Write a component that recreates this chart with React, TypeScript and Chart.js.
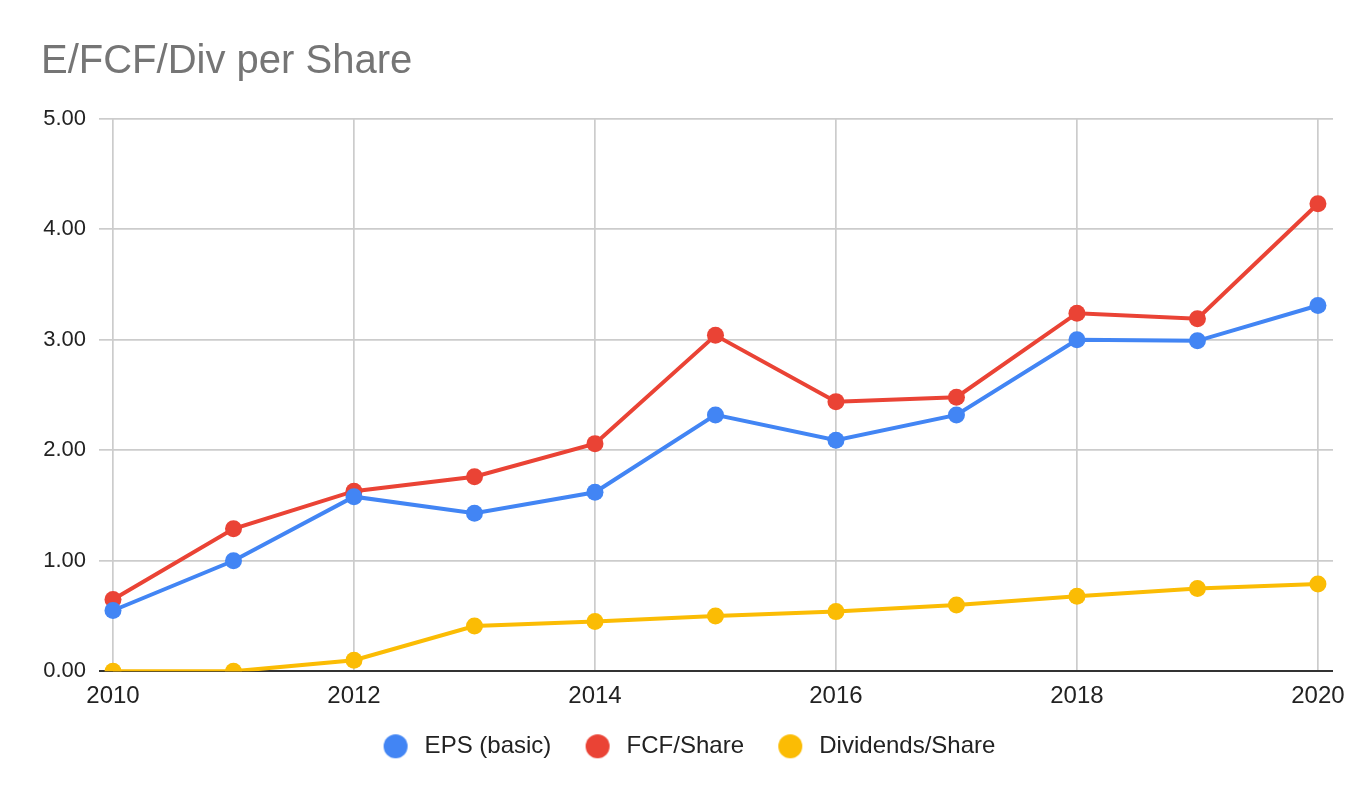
import React, { useEffect, useRef } from "react";
import { Chart, registerables } from "chart.js";

Chart.register(...registerables);

const years = [2010, 2011, 2012, 2013, 2014, 2015, 2016, 2017, 2018, 2019, 2020];
const xTickYears = [2010, 2012, 2014, 2016, 2018, 2020];
const epsBasic = [0.55, 1.0, 1.58, 1.43, 1.62, 2.32, 2.09, 2.32, 3.0, 2.99, 3.31];
const fcfPerShare = [0.65, 1.29, 1.63, 1.76, 2.06, 3.04, 2.44, 2.48, 3.24, 3.19, 4.23];
const dividendsPerShare = [0.0, 0.0, 0.1, 0.41, 0.45, 0.5, 0.54, 0.6, 0.68, 0.75, 0.79];
const seriesNames = ["EPS (basic)", "FCF/Share", "Dividends/Share"];
const seriesColors = ["#4285F4", "#EA4335", "#FBBC04"];

const FONT = "'Liberation Sans', Arial, sans-serif";

function makeDot(color: string, r: number) {
  const c = document.createElement("canvas");
  const size = Math.ceil(r * 2 + 2);
  c.width = size;
  c.height = size;
  const ctx = c.getContext("2d")!;
  ctx.fillStyle = color;
  ctx.beginPath();
  ctx.arc(size / 2, size / 2, r, 0, Math.PI * 2);
  ctx.fill();
  return c;
}

export default function App() {
  const ref = useRef<HTMLCanvasElement | null>(null);

  useEffect(() => {
    if (!ref.current) return;
    const seriesValues = [epsBasic, fcfPerShare, dividendsPerShare];
    const dots = seriesColors.map((c) => makeDot(c, 12));
    const chart = new Chart(ref.current, {
      type: "line",
      data: {
        datasets: seriesValues.map((vals, i) => ({
          label: seriesNames[i],
          data: vals.map((v, j) => ({ x: years[j], y: v })),
          borderColor: seriesColors[i],
          backgroundColor: seriesColors[i],
          pointBackgroundColor: seriesColors[i],
          pointBorderWidth: 0,
          pointRadius: 8.5,
          pointHoverRadius: 8.5,
          borderWidth: 4,
          tension: 0,
          clip: { left: false, top: false, right: false, bottom: 0 } as any,
        })),
      },
      options: {
        animation: false,
        responsive: false,
        maintainAspectRatio: false,
        layout: { padding: { left: 41, right: 39, top: 0, bottom: 29.7 } },
        plugins: {
          tooltip: { enabled: false },
          title: {
            display: true,
            text: "E/FCF/Div per Share",
            align: "start",
            color: "#757575",
            font: { family: FONT, size: 40, weight: "normal" },
            padding: { top: 38, bottom: 32.7 },
          },
          legend: {
            position: "bottom",
            labels: {
              usePointStyle: true,
              pointStyleWidth: 34,
              padding: 29.3,
              color: "#222222",
              font: { family: FONT, size: 24 },
              generateLabels: (ch: any) => {
                const items = Chart.defaults.plugins.legend.labels.generateLabels(ch);
                return items.map((it: any, i: number) => ({ ...it, pointStyle: dots[i] }));
              },
            },
          },
        },
        scales: {
          x: {
            type: "linear",
            min: 2010,
            max: 2020.125,
            afterBuildTicks: (s: any) => {
              s.ticks = xTickYears.map((v) => ({ value: v }));
            },
            afterFit: (s: any) => {
              s.height = 33.7;
            },
            grid: { color: "#cccccc", lineWidth: 1.7, drawTicks: false },
            border: { display: false },
            ticks: {
              padding: 11,
              color: "#222222",
              font: { family: FONT, size: 24 },
              maxRotation: 0,
              autoSkip: false,
              callback: (v: any) => String(v),
            },
          },
          y: {
            min: 0,
            max: 5,
            afterFit: (s: any) => {
              s.width = 72;
            },
            grid: {
              color: (c: any) => (c.tick && c.tick.value === 0 ? "#333333" : "#cccccc"),
              lineWidth: (c: any) => (c.tick && c.tick.value === 0 ? 2 : 1.7),
              tickLength: 14,
            },
            border: { display: false },
            ticks: {
              stepSize: 1,
              padding: 13,
              color: "#222222",
              font: { family: FONT, size: 22 },
              callback: (v: any) => Number(v).toFixed(2),
            },
          },
        },
      },
    });
    return () => chart.destroy();
  }, []);

  return (
    <div style={{ position: "absolute", left: 0, top: 0, width: 1372, height: 798, background: "#ffffff" }}>
      <canvas ref={ref} width={1372} height={798} style={{ width: 1372, height: 798, display: "block" }} />
    </div>
  );
}
